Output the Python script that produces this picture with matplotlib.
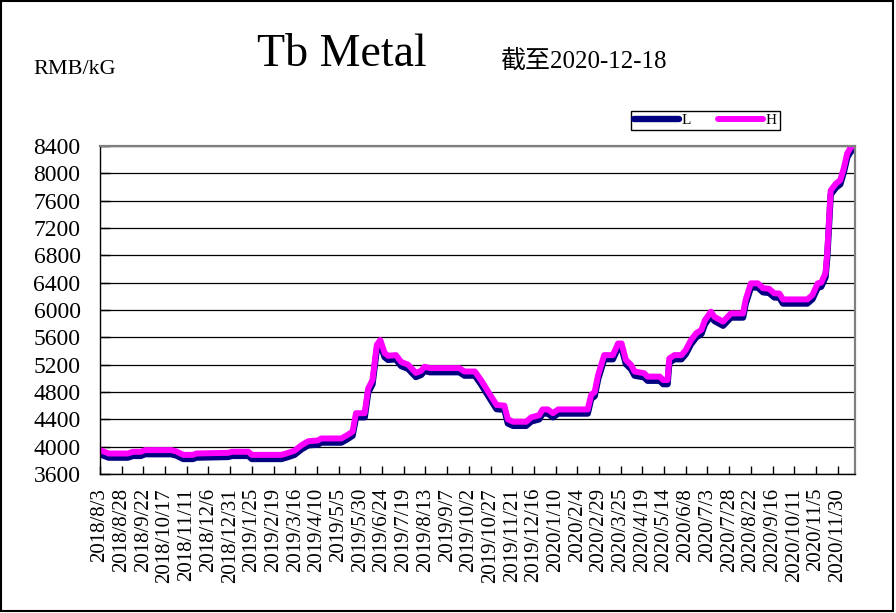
import matplotlib
matplotlib.use('Agg')
import matplotlib.pyplot as plt
import matplotlib.patches as mpatches
import pandas as pd

# price readings (RMB/kG), breakpoints of the daily series
dates = ['2018-08-03', '2018-08-13', '2018-09-04', '2018-09-10', '2018-09-19', '2018-09-24',
         '2018-10-24', '2018-10-30', '2018-11-07', '2018-11-18', '2018-11-22', '2018-12-29',
         '2019-01-02', '2019-01-21', '2019-01-25', '2019-02-28', '2019-03-08', '2019-03-15',
         '2019-03-23', '2019-03-31', '2019-04-11', '2019-04-15', '2019-05-08', '2019-05-15',
         '2019-05-21', '2019-05-25', '2019-06-04', '2019-06-08', '2019-06-13', '2019-06-18',
         '2019-06-22', '2019-06-27', '2019-07-01', '2019-07-10', '2019-07-16', '2019-07-24',
         '2019-08-02', '2019-08-08', '2019-08-12', '2019-08-18', '2019-09-21', '2019-09-27',
         '2019-10-09', '2019-10-16', '2019-10-28', '2019-11-03', '2019-11-12', '2019-11-16',
         '2019-11-22', '2019-12-07', '2019-12-13', '2019-12-22', '2019-12-26', '2020-01-01',
         '2020-01-07', '2020-01-13', '2020-02-16', '2020-02-20', '2020-02-24', '2020-02-28',
         '2020-03-06', '2020-03-16', '2020-03-22', '2020-03-26', '2020-03-31', '2020-04-06',
         '2020-04-10', '2020-04-21', '2020-04-25', '2020-05-09', '2020-05-13', '2020-05-18',
         '2020-05-20', '2020-05-26', '2020-06-03', '2020-06-08', '2020-06-14', '2020-06-20',
         '2020-06-26', '2020-06-30', '2020-07-07', '2020-07-11', '2020-07-21', '2020-07-30',
         '2020-08-13', '2020-08-16', '2020-08-22', '2020-08-30', '2020-09-05', '2020-09-12',
         '2020-09-18', '2020-09-24', '2020-09-28', '2020-10-26', '2020-11-01', '2020-11-07',
         '2020-11-11', '2020-11-16', '2020-11-18', '2020-11-22', '2020-11-28', '2020-12-03',
         '2020-12-07', '2020-12-11', '2020-12-15', '2020-12-18']

high = [3950, 3900, 3900, 3925, 3925, 3950, 3950, 3930, 3880, 3880, 3900, 3910,
        3925, 3925, 3880, 3880, 3910, 3940, 4020, 4080, 4090, 4120, 4120, 4170,
        4220, 4490, 4490, 4850, 4975, 5490, 5560, 5370, 5330, 5340, 5240, 5200,
        5080, 5110, 5170, 5150, 5150, 5100, 5100, 4975, 4730, 4610, 4600, 4400,
        4365, 4365, 4430, 4460, 4545, 4545, 4490, 4545, 4545, 4760, 4800, 5050,
        5340, 5340, 5510, 5510, 5270, 5195, 5100, 5075, 5025, 5025, 4975, 4975,
        5290, 5340, 5340, 5415, 5560, 5660, 5710, 5850, 5975, 5900, 5830, 5950,
        5950, 6150, 6390, 6390, 6320, 6310, 6245, 6240, 6155, 6155, 6220, 6390,
        6400, 6540, 6830, 7750, 7850, 7900, 8070, 8290, 8380, 8400]

low = [3890, 3840, 3840, 3865, 3865, 3890, 3890, 3870, 3820, 3820, 3840, 3850,
       3865, 3865, 3820, 3820, 3850, 3880, 3960, 4020, 4030, 4060, 4060, 4110,
       4160, 4430, 4430, 4790, 4915, 5430, 5500, 5310, 5270, 5280, 5180, 5140,
       5020, 5050, 5110, 5090, 5090, 5040, 5040, 4915, 4670, 4550, 4540, 4340,
       4305, 4305, 4370, 4400, 4485, 4485, 4430, 4485, 4485, 4700, 4740, 4990,
       5280, 5280, 5450, 5450, 5210, 5135, 5040, 5015, 4965, 4965, 4915, 4915,
       5230, 5280, 5280, 5355, 5500, 5600, 5650, 5790, 5915, 5840, 5770, 5890,
       5890, 6090, 6330, 6330, 6260, 6250, 6185, 6180, 6095, 6095, 6160, 6330,
       6340, 6480, 6770, 7690, 7790, 7840, 8010, 8230, 8320, 8340]

tick_labels = ['2018/8/3', '2018/8/28', '2018/9/22', '2018/10/17', '2018/11/11', '2018/12/6',
               '2018/12/31', '2019/1/25', '2019/2/19', '2019/3/16', '2019/4/10', '2019/5/5',
               '2019/5/30', '2019/6/24', '2019/7/19', '2019/8/13', '2019/9/7', '2019/10/2',
               '2019/10/27', '2019/11/21', '2019/12/16', '2020/1/10', '2020/2/4', '2020/2/29',
               '2020/3/25', '2020/4/19', '2020/5/14', '2020/6/8', '2020/7/3', '2020/7/28',
               '2020/8/22', '2020/9/16', '2020/10/11', '2020/11/5', '2020/11/30']

y_ticks = list(range(3600, 8401, 400))

plt.rcParams['font.family'] = ['Liberation Serif', 'Noto Sans CJK SC']

x = pd.to_datetime(dates)
tick_pos = pd.to_datetime(tick_labels, format='%Y/%m/%d')

fig = plt.figure(figsize=(8.96, 6.13), dpi=100)
ax = fig.add_axes([100 / 896, 1 - 474 / 613, 755 / 896, 328 / 613])

ax.plot(x, low, color='#000080', lw=4.6, solid_joinstyle='round', solid_capstyle='round', label='L')
ax.plot(x, high, color='#FF00FF', lw=4.3, solid_joinstyle='round', solid_capstyle='round', label='H')

ax.set_xlim(pd.Timestamp('2018-08-03'), pd.Timestamp('2020-12-20'))
ax.set_ylim(3600, 8400)
ax.set_yticks(y_ticks)
ax.set_xticks(tick_pos)
ax.set_xticklabels(tick_labels, rotation=90)
ax.yaxis.grid(True, color='black', lw=0.9)
ax.set_axisbelow(True)

ax.tick_params(axis='y', direction='in', length=7, width=1, labelsize=17, pad=14)
ax.tick_params(axis='x', direction='in', length=6, width=1, labelsize=15, pad=10)

for s in ['top', 'right']:
    ax.spines[s].set_color('#808080')
    ax.spines[s].set_linewidth(1.6)
for s in ['left', 'bottom']:
    ax.spines[s].set_color('black')
    ax.spines[s].set_linewidth(1.0)

fig.text(33 / 896, 1 - 69 / 613, 'RMB/kG', fontsize=16, va='center', ha='left')
fig.text(342 / 896, 1 - 55 / 613, 'Tb Metal', fontsize=33, va='center', ha='center')
fig.text(500 / 896, 1 - 61 / 613, '截至2020-12-18', fontsize=18, va='center', ha='left')

leg = ax.legend(loc='center', bbox_to_anchor=(705.5 / 896, 1 - 120.5 / 613),
                bbox_transform=fig.transFigure, ncol=2, fontsize=11, frameon=True,
                fancybox=False, edgecolor='black', framealpha=1, borderpad=0.2,
                handlelength=2.9, handletextpad=0.2, columnspacing=1.8)
leg.get_frame().set_linewidth(1.0)

fig.add_artist(mpatches.Rectangle((1 / 896, 1 - 611 / 613), 892 / 896, 610 / 613,
                                  transform=fig.transFigure, fill=False,
                                  edgecolor='black', lw=1.5))

fig.savefig('out.png', dpi=100)
